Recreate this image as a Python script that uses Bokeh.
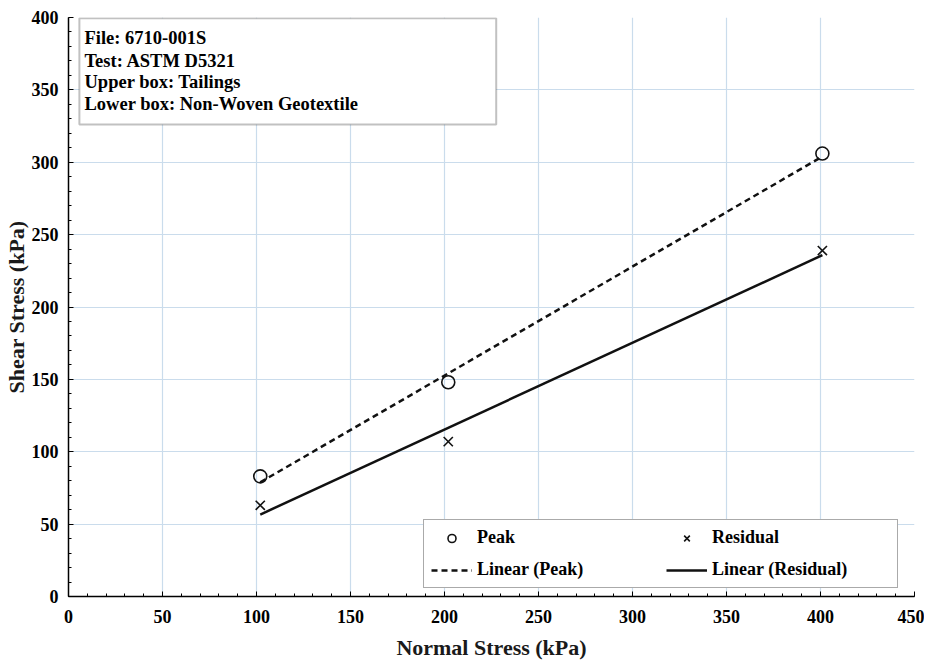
import numpy as np
from bokeh.plotting import figure
from bokeh.models import (Range1d, SingleIntervalTicker, Legend, LegendItem,
                          Label, BoxAnnotation)
from bokeh.embed import file_html
from bokeh.resources import INLINE

# ---- data ----
normal_stress = [102, 202, 401]
peak_shear = [83, 148, 306]
residual_shear = [63, 107, 239]

x_ticks_interval = 50
info_lines = ["File: 6710-001S", "Test: ASTM D5321", "Upper box: Tailings",
              "Lower box: Non-Woven Geotextile"]
x_label = "Normal Stress (kPa)"
y_label = "Shear Stress (kPa)"

FONT = "Liberation Serif"

p = figure(frame_width=846, frame_height=579,
           x_range=Range1d(0, 450), y_range=Range1d(0, 400),
           output_backend="svg", toolbar_location=None,
           min_border_left=62, min_border_top=17, min_border_bottom=60,
           min_border_right=10)
p.outline_line_color = None
p.background_fill_color = "white"

for ax in (p.xaxis[0], p.yaxis[0]):
    ax.ticker = SingleIntervalTicker(interval=x_ticks_interval, num_minor_ticks=5)
    ax.axis_line_color = "black"
    ax.axis_line_width = 1.5
    ax.major_tick_in = 5
    ax.major_tick_out = 0
    ax.minor_tick_in = 3
    ax.minor_tick_out = 0
    ax.major_tick_line_color = "black"
    ax.minor_tick_line_color = "black"
    ax.major_label_text_font = FONT
    ax.major_label_text_font_style = "bold"
    ax.major_label_text_font_size = "18px"
    ax.major_label_text_color = "black"
    ax.axis_label_text_font = FONT
    ax.axis_label_text_font_style = "bold"
    ax.axis_label_text_font_size = "22px"
    ax.axis_label_text_color = "#1a1a1a"

p.xaxis.axis_label = x_label
p.yaxis.axis_label = y_label
p.xaxis.major_label_standoff = 13
p.yaxis.major_label_standoff = 10
p.xaxis.axis_label_standoff = 9
p.yaxis.axis_label_standoff = 0

p.xgrid.grid_line_color = "#cadcec"
p.ygrid.grid_line_color = "#cadcec"
p.xgrid.grid_line_width = 1.2
p.ygrid.grid_line_width = 1.2

# trendlines (least squares fits as in the spreadsheet)
xs = np.array(normal_stress, dtype=float)
xfit = np.array([xs.min(), xs.max()])
mp, bp = np.polyfit(xs, peak_shear, 1)
mr, br = np.polyfit(xs, residual_shear, 1)

r_lp = p.line(xfit, mp * xfit + bp, line_color="#111", line_width=2.5,
              line_dash="6 4")
r_lr = p.line(xfit, mr * xfit + br, line_color="#111", line_width=2.5)

r_pk = p.scatter(normal_stress, peak_shear, marker="circle", size=13,
                 fill_color="white", fill_alpha=0, line_color="#111",
                 line_width=1.6)
r_rs = p.scatter(normal_stress, residual_shear, marker="x", size=13,
                 line_color="#111", line_width=1.6)

legend = Legend(items=[
    LegendItem(label="Peak", renderers=[r_pk]),
    LegendItem(label="Linear (Peak)", renderers=[r_lp]),
    LegendItem(label="Residual", renderers=[r_rs]),
    LegendItem(label="Linear (Residual)", renderers=[r_lr]),
], ncols=2)
legend.location = (355, 8)
legend.label_text_font = FONT
legend.label_text_font_style = "bold"
legend.label_text_font_size = "18px"
legend.label_text_color = "black"
legend.label_width = 178
legend.label_height = 20
legend.glyph_width = 41
legend.glyph_height = 20
legend.label_standoff = 5
legend.padding = 7
legend.spacing = 11
legend.margin = 0
legend.border_line_color = "#555"
legend.border_line_width = 1.5
legend.background_fill_color = "white"
legend.background_fill_alpha = 1
p.add_layout(legend, "center")

# information box
box = BoxAnnotation(left=5.8, right=227.5, top=399.5, bottom=326,
                    fill_color="white", fill_alpha=1, line_color="#333",
                    line_width=2, level="annotation")
p.add_layout(box)
ys = [385.5, 370, 355.5, 340]
for t, yv in zip(info_lines, ys):
    p.add_layout(Label(x=8.5, y=yv, text=t, text_font=FONT,
                       text_font_style="bold", text_font_size="18.5px",
                       text_color="black", text_baseline="middle",
                       level="annotation"))

open("out.html", "w").write(file_html(p, INLINE))
